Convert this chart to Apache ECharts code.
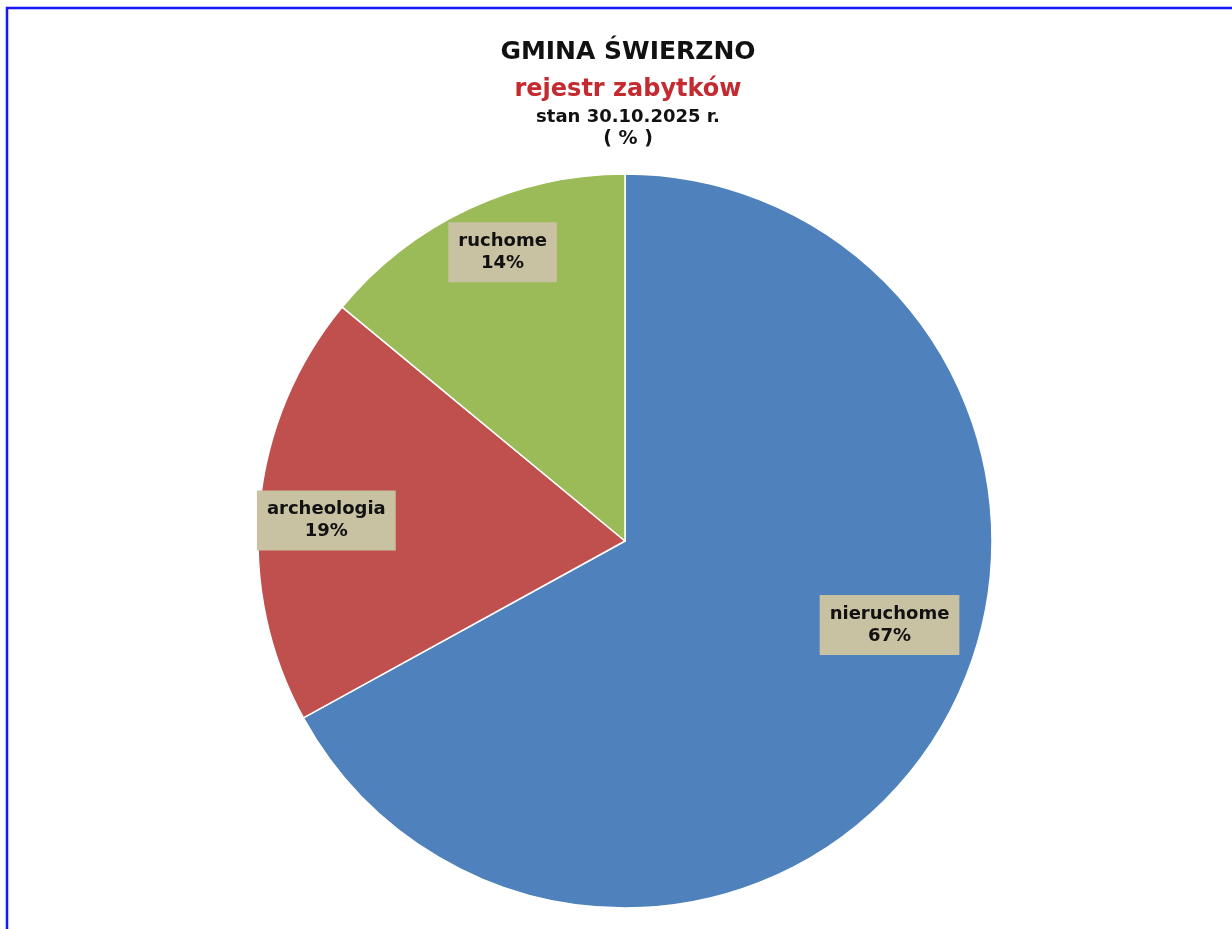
<!DOCTYPE html>
<html>
<head>
<meta charset="utf-8">
<script src="https://cdn.jsdelivr.net/npm/echarts@6/dist/echarts.min.js"></script>
<style>
html,body{margin:0;padding:0;background:#fff;}
#main{width:1232px;height:929px;}
</style>
</head>
<body>
<div id="main"></div>
<script>
var categories = ['nieruchome', 'archeologia', 'ruchome'];
var values = [67, 19, 14];
var colors = ['#4F81BD', '#C0504D', '#9BBB59'];
var titleLines = ['GMINA ŚWIERZNO', 'rejestr zabytków', 'stan 30.10.2025 r.', '( % )'];

var chart = echarts.init(document.getElementById('main'), null, {renderer: 'canvas'});
var font = '"DejaVu Sans", sans-serif';
var labelShift = [[104, -11], [-113, -3], [-43, -120]];

var option = {
  backgroundColor: '#ffffff',
  animation: false,
  title: [
    {text: titleLines[0], left: 623, top: 35, textAlign: 'center',
     textStyle: {fontFamily: font, fontWeight: 'bold', fontSize: 25, color: '#111'}},
    {text: titleLines[1], left: 623, top: 73, textAlign: 'center',
     textStyle: {fontFamily: font, fontWeight: 'bold', fontSize: 24, color: '#C42A2F'}},
    {text: titleLines[2], left: 623, top: 103, textAlign: 'center',
     textStyle: {fontFamily: font, fontWeight: 'bold', fontSize: 18, color: '#111'}},
    {text: titleLines[3], left: 623, top: 125, textAlign: 'center',
     textStyle: {fontFamily: font, fontWeight: 'bold', fontSize: 19, color: '#111'}}
  ],
  graphic: [{
    type: 'polyline',
    shape: {points: [[7, 929], [7, 8], [1232, 8]]},
    style: {stroke: '#1717ff', lineWidth: 2.5, fill: null}
  }],
  series: [{
    type: 'pie',
    center: [625, 541],
    radius: [0, 367],
    startAngle: 90,
    clockwise: true,
    silent: true,
    itemStyle: {borderColor: '#ffffff', borderWidth: 1.5},
    label: {
      show: true,
      position: 'inside',
      formatter: function (p) { return p.name + '\n' + p.value + '%'; },
      fontFamily: font,
      fontWeight: 'bold',
      fontSize: 18,
      lineHeight: 22,
      color: '#111',
      backgroundColor: '#C8C1A2',
      padding: [8, 10, 8, 10],
      align: 'center'
    },
    labelLine: {show: false},
    labelLayout: function (p) {
      var s = labelShift[p.dataIndex];
      return {dx: s[0], dy: s[1]};
    },
    data: categories.map(function (c, i) {
      return {name: c, value: values[i], itemStyle: {color: colors[i]}};
    })
  }]
};
chart.setOption(option);
</script>
</body>
</html>
